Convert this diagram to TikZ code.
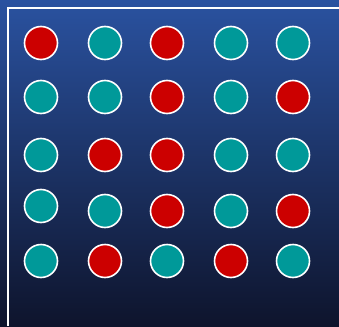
\documentclass[tikz,border=0pt]{standalone}
\definecolor{bgtop}{RGB}{42,82,160}
\definecolor{bgbot}{RGB}{14,20,44}
\definecolor{dotred}{RGB}{204,0,0}
\definecolor{dotteal}{RGB}{0,153,153}
\begin{document}
\begin{tikzpicture}[x=1pt,y=-1pt,
  dot/.style={circle,draw=white,line width=1.6pt,minimum size=33pt,inner sep=0pt},
  rd/.style={dot,fill=dotred},
  tl/.style={dot,fill=dotteal}]
\shade[top color=bgtop,bottom color=bgbot] (0,0) rectangle (339,326);
\useasboundingbox (0,0) rectangle (339,326);
\coordinate (fb) at (8,326);
\coordinate (fc) at (8,8);
\coordinate (fr) at (339,8);
\draw[white,line width=2pt] (fb) -- (fc) -- (fr);
% row 1
\node[rd] (a1) at (41,43) {};
\node[tl] (a2) at (105,43) {};
\node[rd] (a3) at (167,43) {};
\node[tl] (a4) at (231,43) {};
\node[tl] (a5) at (293,43) {};
% row 2
\node[tl] (b1) at (41,97) {};
\node[tl] (b2) at (105,97) {};
\node[rd] (b3) at (167,97) {};
\node[tl] (b4) at (231,97) {};
\node[rd] (b5) at (293,97) {};
% row 3
\node[tl] (c1) at (41,155) {};
\node[rd] (c2) at (105,155) {};
\node[rd] (c3) at (167,155) {};
\node[tl] (c4) at (231,155) {};
\node[tl] (c5) at (293,155) {};
% row 4
\node[tl] (d1) at (41,206) {};
\node[tl] (d2) at (105,211) {};
\node[rd] (d3) at (167,211) {};
\node[tl] (d4) at (231,211) {};
\node[rd] (d5) at (293,211) {};
% row 5
\node[tl] (e1) at (41,261) {};
\node[rd] (e2) at (105,261) {};
\node[tl] (e3) at (167,261) {};
\node[rd] (e4) at (231,261) {};
\node[tl] (e5) at (293,261) {};
\end{tikzpicture}
\end{document}
